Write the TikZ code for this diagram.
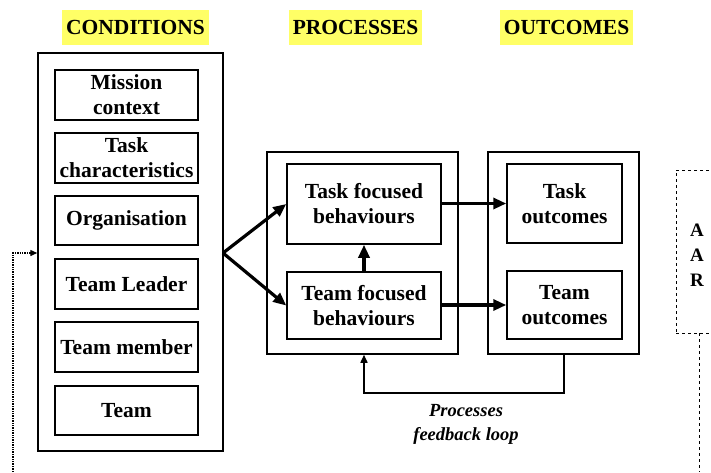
\documentclass[tikz,border=0pt]{standalone}
\usepackage{fontspec}
\setmainfont{Liberation Serif}
\newfontfamily\tnr{Liberation Serif}
\usetikzlibrary{arrows.meta}
\definecolor{hl}{HTML}{FFFF66}
\tikzset{
  box/.style={draw, line width=1.5pt, inner sep=0pt, align=center, font=\tnr\fontsize{21.5}{25}\selectfont\bfseries},
  hdr/.style={fill=hl, inner sep=0pt, font=\tnr\fontsize{21.5}{25}\selectfont\bfseries},
  bigarrow/.style={line width=3.2pt, -{Triangle[length=13pt,width=11pt]}},
  thinarrow/.style={line width=1.5pt, -{Triangle[length=8pt,width=7pt]}},
}
\begin{document}
\begin{tikzpicture}[x=1pt,y=-1pt]
\useasboundingbox (0,0) rectangle (711,472);
% headers
\node[hdr, minimum width=147pt, minimum height=35pt] (hcond) at (135.5,27.5) {CONDITIONS};
\node[hdr, minimum width=133pt, minimum height=35pt] (hproc) at (355.5,27.5) {PROCESSES};
\node[hdr, minimum width=133pt, minimum height=35pt] (hout) at (566.5,27.5) {OUTCOMES};
% conditions
\node[box, minimum width=185pt, minimum height=398pt] (cond) at (130.5,252) {};
\node[box, minimum width=143pt, minimum height=50pt] (mc) at (126.5,95) {Mission\\context};
\node[box, minimum width=143pt, minimum height=50pt] (tc) at (126.5,158) {Task\\characteristics};
\node[box, minimum width=143pt, minimum height=49pt] (org) at (126.5,220.5) {Organisation};
\node[box, minimum width=143pt, minimum height=50pt] (tl) at (126.5,284) {Team Leader};
\node[box, minimum width=143pt, minimum height=50pt] (tm) at (126.5,347) {Team member};
\node[box, minimum width=143pt, minimum height=49pt] (team) at (126.5,410.5) {Team};
% processes
\node[box, minimum width=191pt, minimum height=202pt] (proc) at (362.5,253) {};
\node[box, minimum width=154pt, minimum height=80pt] (tfb) at (364,204) {Task focused\\behaviours};
\node[box, minimum width=154pt, minimum height=67pt] (mfb) at (364,305.5) {Team focused\\behaviours};
% outcomes
\node[box, minimum width=151pt, minimum height=202pt] (outc) at (563.5,253) {};
\node[box, minimum width=115pt, minimum height=79pt] (to) at (564.5,203.5) {Task\\outcomes};
\node[box, minimum width=115pt, minimum height=68pt] (mo) at (564.5,305) {Team\\outcomes};
% AAR
\node[draw, dashed, line width=0.9pt, minimum width=46pt, minimum height=163pt, inner sep=0pt] (aar) at (699,251.5) {};
\node[inner sep=0pt, align=center, font=\tnr\fontsize{19}{25}\selectfont\bfseries] (aart) at (697,255) {A\\A\\R};
% arrows
\coordinate (fork) at (223,253);
\draw[bigarrow] (fork) -- (tfb.west);
\draw[bigarrow] (fork) -- (mfb.west);
\draw[bigarrow] (mfb.north) -- (tfb.south);
\draw[bigarrow] (tfb.east |- to.west) -- (to.west);
\draw[bigarrow] (mfb.east |- mo.west) -- (mo.west);
% feedback loop
\coordinate (fbr) at (564,393);
\coordinate (fbl) at (364,393);
\draw[thinarrow] (outc.south -| fbr) -- (fbr) -- (fbl) -- (proc.south -| fbl);
\node[inner sep=0pt, align=center, font=\tnr\fontsize{18.5}{24}\selectfont\bfseries\itshape] (fbtext) at (466,424) {Processes\\feedback loop};
% AAR dashed line down
\coordinate (aarend) at (699,472);
\draw[dashed, line width=0.9pt] (aar.south) -- (aarend);
% left dotted loop
\coordinate (lbot) at (13,472);
\coordinate (ltop) at (13,253);
\draw[densely dotted, line width=1.4pt, -{Triangle[length=7pt,width=6pt]}] (lbot) -- (ltop) -- (ltop -| cond.west);
\end{tikzpicture}
\end{document}
